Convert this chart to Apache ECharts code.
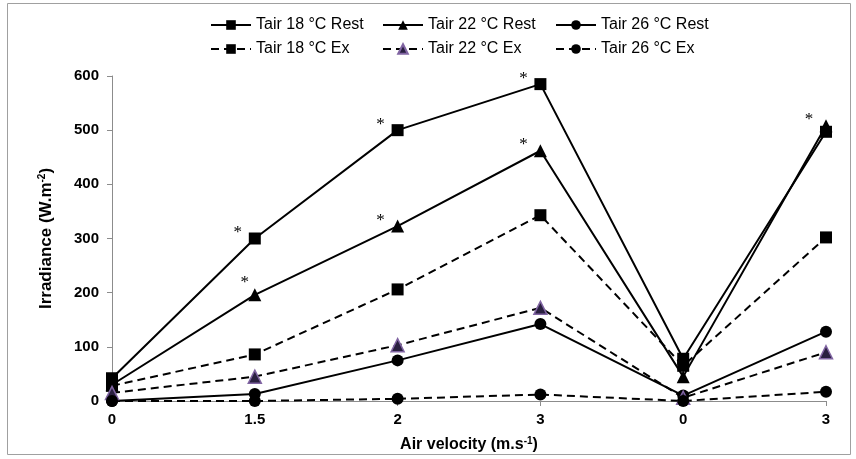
<!DOCTYPE html>
<html><head><meta charset="utf-8">
<script src="https://cdn.jsdelivr.net/npm/echarts@6/dist/echarts.min.js"></script>
<style>html,body{margin:0;padding:0;background:#fff}#c{width:856px;height:459px}</style>
</head><body><div id="c"></div>
<script>
const categories = ['0', '1.5', '2', '3', '0', '3'];
const rest18 = [42, 300, 500, 585, 78, 497];
const rest22 = [30, 196, 323, 462, 45, 508];
const rest26 = [0, 13, 75, 142, 10, 128];
const ex18 = [28, 86, 206, 343, 65, 302];
const ex22 = [15, 45, 103, 172, 6, 90];
const ex26 = [0, 0, 4, 12, 0, 17];
const stars18 = [0, 1, 1, 1, 0, 0];
const stars22 = [0, 1, 1, 1, 0, 1];
const yTicks = [0, 100, 200, 300, 400, 500, 600];
const names = ['Tair 18 °C Rest', 'Tair 22 °C Rest', 'Tair 26 °C Rest', 'Tair 18 °C Ex', 'Tair 22 °C Ex', 'Tair 26 °C Ex'];

function withStars(vals, stars, offsets) {
  return vals.map((v, i) => stars[i] ? {
    value: v,
    label: { show: true, formatter: '*', position: 'inside', offset: offsets[i] || [-17, -6],
      fontFamily: 'Liberation Serif', fontSize: 17, color: '#000' }
  } : v);
}
const starOff18 = {};
const starOff22 = { 1: [-10, -12] };
const solid = { color: '#000', width: 2, type: 'solid' };
const dashed = { color: '#000', width: 2, type: [8, 5] };
const blackItem = { color: '#000' };
const purpleItem = { color: '#2a2040', borderColor: '#8064a2', borderWidth: 1.5 };

const seriesDefs = [
  { name: names[0], data: withStars(rest18, stars18, starOff18), symbol: 'rect', symbolSize: 12, lineStyle: solid, itemStyle: blackItem },
  { name: names[1], data: withStars(rest22, stars22, starOff22), symbol: 'triangle', symbolSize: 13, lineStyle: solid, itemStyle: blackItem },
  { name: names[2], data: rest26, symbol: 'circle', symbolSize: 12, lineStyle: solid, itemStyle: blackItem },
  { name: names[3], data: ex18, symbol: 'rect', symbolSize: 12, lineStyle: dashed, itemStyle: blackItem },
  { name: names[4], data: ex22, symbol: 'triangle', symbolSize: 13, lineStyle: dashed, itemStyle: purpleItem },
  { name: names[5], data: ex26, symbol: 'circle', symbolSize: 12, lineStyle: dashed, itemStyle: blackItem }
].map(s => Object.assign({ type: 'line', showAllSymbol: true, animation: false, z: 3 }, s));

const legendPos = [[210, 17], [382, 17], [555, 17], [210, 41], [382, 41], [555, 41]];
const legends = names.map((n, i) => ({
  data: [n], left: legendPos[i][0], top: legendPos[i][1], padding: 0,
  itemWidth: 40, itemHeight: 12, itemGap: 0,
  textStyle: { fontFamily: 'Liberation Sans', fontSize: 16, color: '#000' },
  selectedMode: false
}));

const chart = echarts.init(document.getElementById('c'), null, { renderer: 'canvas' });
const titleRich = {
  b: { fontFamily: 'Liberation Sans', fontWeight: 'bold', fontSize: 16, color: '#000', lineHeight: 18 },
  s: { fontFamily: 'Liberation Sans', fontWeight: 'bold', fontSize: 10, color: '#000', lineHeight: 18, verticalAlign: 'top', padding: [0, 0, 8, 0] }
};
const yTitleRich = {
  b: Object.assign({}, titleRich.b, { fontSize: 17 }),
  s: titleRich.s
};
chart.setOption({
  backgroundColor: '#fff',
  animation: false,
  graphic: [{ type: 'rect', shape: { x: 7.5, y: 3.5, width: 843, height: 451 }, style: { fill: 'none', stroke: '#a0a0a0', lineWidth: 1 }, z: -1 }],
  legend: legends,
  grid: { left: 112, right: 30, top: 76, bottom: 56, containLabel: false },
  xAxis: {
    type: 'category', data: categories, boundaryGap: false,
    axisLine: { lineStyle: { color: '#8c8c8c', width: 1 } },
    axisTick: { show: true, length: 5, lineStyle: { color: '#8c8c8c' } },
    axisLabel: { color: '#000', fontFamily: 'Liberation Sans', fontWeight: 'bold', fontSize: 15, margin: 11 },
    name: '{b|Air velocity (m.s}{s|-1}{b|)}', nameLocation: 'middle', nameGap: 35,
    nameTextStyle: { rich: titleRich }
  },
  yAxis: {
    type: 'value', min: 0, max: 600, interval: 100,
    axisLine: { show: true, lineStyle: { color: '#8c8c8c', width: 1 } },
    axisTick: { show: true, length: 5, lineStyle: { color: '#8c8c8c' } },
    splitLine: { show: false },
    axisLabel: { color: '#000', fontFamily: 'Liberation Sans', fontWeight: 'bold', fontSize: 15, margin: 13,
      formatter: v => yTicks.includes(v) ? String(v) : '' },
    name: '{b|Irradiance (W.m}{s|-2}{b|)}', nameLocation: 'middle', nameGap: 57, nameRotate: 90,
    nameTextStyle: { rich: yTitleRich }
  },
  series: seriesDefs
});
</script></body></html>
